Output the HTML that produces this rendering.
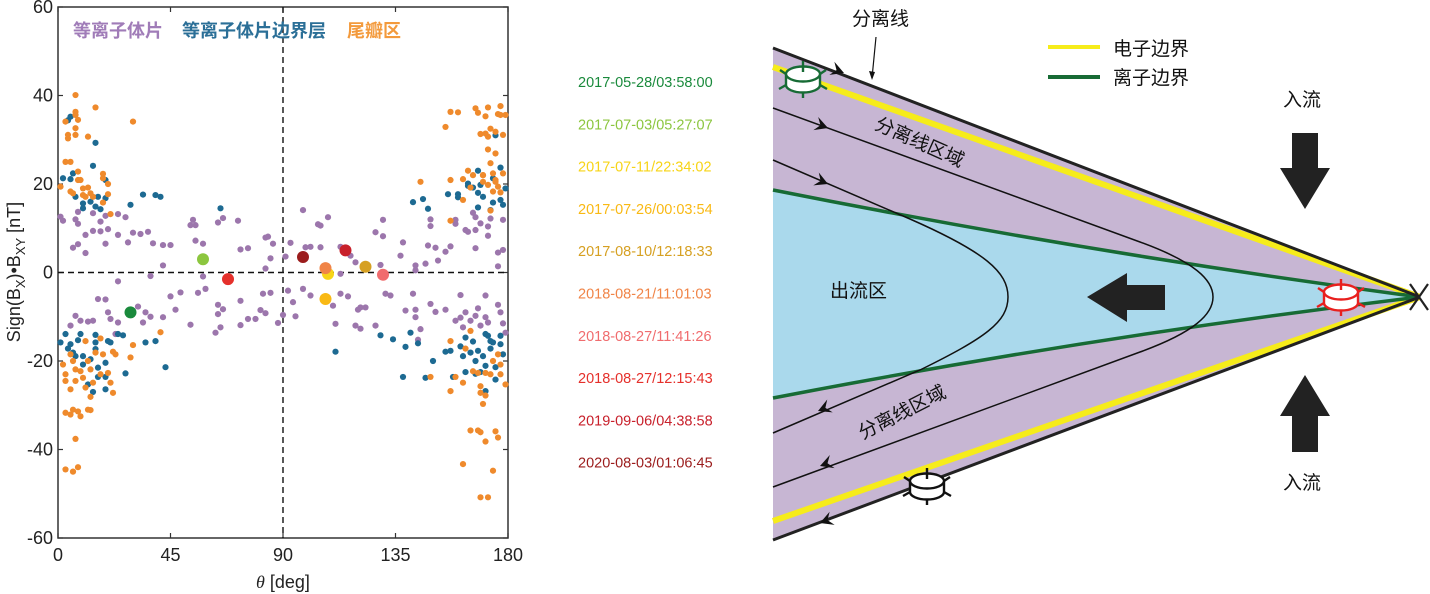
<!DOCTYPE html>
<html><head><meta charset="utf-8">
<style>
html,body{margin:0;padding:0;background:#fff;}
svg{display:block;}
text{font-family:"Liberation Sans","Noto Sans CJK SC",sans-serif;}
</style></head>
<body>
<svg id="fig" width="1430" height="594" viewBox="0 0 1430 594" xmlns="http://www.w3.org/2000/svg">
<g id="left">
  <rect x="58" y="7" width="450" height="531" fill="#fff" stroke="#333" stroke-width="1.5"/>
  <g id="ticks"></g>
  <g id="guides"></g>
  <g id="pts"></g>
  <g id="big"></g>
  <g font-size="18" font-weight="bold">
    <text x="73" y="37" fill="#a07cb8">等离子体片</text>
    <text x="182" y="37" fill="#2b6f97">等离子体片边界层</text>
    <text x="347" y="37" fill="#f39a3c">尾瓣区</text>
  </g>
  <text x="283" y="588" font-size="18" text-anchor="middle" fill="#222"><tspan font-style="italic" font-family="Liberation Serif, serif">θ</tspan> [deg]</text>
  <text transform="translate(20,272) rotate(-90)" font-size="18" text-anchor="middle" fill="#222">Sign(B<tspan font-size="13" dy="5">X</tspan><tspan dy="-5">)•B</tspan><tspan font-size="13" dy="5">XY</tspan><tspan dy="-5"> [nT]</tspan></text>
  <g id="dates" font-size="14.5"></g>
</g>

<g id="right">
  <polygon points="773,48 1420,297 773,540" fill="#c7b6d3"/>
  <path d="M773,190 Q1100,255 1420,297 Q1100,335 773,398 Z" fill="#aad9ec"/>
  <line x1="773" y1="67" x2="1420" y2="297" stroke="#f6ec1a" stroke-width="6"/>
  <line x1="773" y1="521" x2="1420" y2="297" stroke="#f6ec1a" stroke-width="6"/>
  <path d="M773,190 Q1100,255 1420,297" fill="none" stroke="#176b35" stroke-width="3.5"/>
  <path d="M773,398 Q1100,335 1420,297" fill="none" stroke="#176b35" stroke-width="3.5"/>
  <line x1="773" y1="48" x2="1420" y2="297" stroke="#222" stroke-width="3"/>
  <line x1="773" y1="540" x2="1420" y2="297" stroke="#222" stroke-width="3"/>
  <path d="M773,108 L1140,242 C1195,262 1213,280 1213,297 C1213,314 1195,332 1140,352 L773,487" fill="none" stroke="#111" stroke-width="1.5"/>
  <path d="M773,160 L910,219 C985,252 1008,272 1008,297 C1008,322 985,338 920,370 L773,433" fill="none" stroke="#111" stroke-width="1.5"/>
  <g fill="#111">
    <path d="M0,0 L-13,-7 L-8,0 L-13,7 Z" transform="translate(844,73) rotate(21)"/>
    <path d="M0,0 L-13,-7 L-8,0 L-13,7 Z" transform="translate(828,128) rotate(20)"/>
    <path d="M0,0 L-13,-7 L-8,0 L-13,7 Z" transform="translate(828,184) rotate(23)"/>
    <path d="M0,0 L-13,-7 L-8,0 L-13,7 Z" transform="translate(818,411) rotate(157)"/>
    <path d="M0,0 L-13,-7 L-8,0 L-13,7 Z" transform="translate(820,466) rotate(160)"/>
    <path d="M0,0 L-13,-7 L-8,0 L-13,7 Z" transform="translate(820,523) rotate(159)"/>
  </g>
  <polygon points="1087,297 1127,273 1127,285 1165,285 1165,310 1127,310 1127,322" fill="#222"/>
  <polygon points="1292,133 1318,133 1318,168 1330,168 1305,209 1280,168 1292,168" fill="#222"/>
  <polygon points="1292,452 1318,452 1318,416 1330,416 1305,375 1280,416 1292,416" fill="#222"/>
  <path d="M1410,284 L1428,310 M1428,284 L1410,310" stroke="#222" stroke-width="2.2"/>
  <g font-size="19" fill="#111" font-family="'Noto Sans CJK SC',sans-serif">
    <text x="852" y="25">分离线</text>
    <text x="1283" y="106">入流</text>
    <text x="1283" y="489">入流</text>
    <text x="830" y="297">出流区</text>
    <text transform="translate(917,148) rotate(24)" text-anchor="middle">分离线区域</text>
    <text transform="translate(905,418) rotate(-27)" text-anchor="middle">分离线区域</text>
    <text x="1113" y="55">电子边界</text>
    <text x="1113" y="84">离子边界</text>
  </g>
  <line x1="1048" y1="47" x2="1100" y2="47" stroke="#f6ec1a" stroke-width="4"/>
  <line x1="1048" y1="77" x2="1100" y2="77" stroke="#176b35" stroke-width="4"/>
  <path d="M876,37 L872,78" stroke="#111" stroke-width="1.2"/>
  <path d="M872,80 L869,71 L875,72 Z" fill="#111"/>
  <g id="sc1"></g>
  <g id="sc2"></g>
  <g id="sc3"></g>
</g>
</svg>
<script>
const NS='http://www.w3.org/2000/svg';
// ---- data ----
const xTicks=[0,45,90,135,180];
const yTicks=[-60,-40,-20,0,20,40,60];
const psTheta=[1,2,6,8,7,8,8,11,11,14,14,17,17,19,19,20,24,24,27,28,30,33,36,38,42,45,42,37,24,53,54,55,55,58,58,64,66,72,73,76,83,84,86,85,83,91,93,98,99,101,105,104,105,108,113,113,117,119,127,130,130,129,137,138,143,143,147,148,149,149,151,152,155,157,159,159,163,164,166,167,167,167,169,172,172,173,176,178,178,176,
16,19,7,5,9,12,14,20,21,24,23,32,34,35,37,42,45,49,47,53,56,59,64,66,64,63,65,73,73,76,79,81,83,82,85,88,90,92,94,95,98,101,110,111,113,116,120,121,123,119,121,127,131,133,139,142,143,143,145,144,149,151,155,161,159,161,162,163,165,167,168,169,171,171,172,176,177,178,179];
const psB=[12.6,11.7,5.6,6.4,12,13.7,11,4.4,8.5,13.4,9.4,11.5,9.3,6.5,12.8,9.8,13.2,8.5,12.5,6.8,9,8.7,9.2,6.6,6.2,6.2,1.6,-0.8,-2,10.7,11.9,10.7,7.2,6.5,-0.9,11.3,12.3,11.7,5.2,5.5,7.9,8.1,6.5,3.2,0.9,3.6,6.7,14.1,5.7,5.8,5.7,10.9,10.6,12.5,5.8,-0.3,3.8,2.3,9.1,11.9,8.2,1.7,3.8,6.8,1.6,0.5,2,6.1,12,10.5,5.6,2.7,4.7,5.9,11.9,11,9.6,9.2,13.5,12.5,5.5,9.6,11.1,10.4,8.3,12.2,4.5,11.9,5.1,1.4,
-6,-6.1,-9.8,-12,-10.9,-11.1,-10.9,-9,-10.5,-11.3,-13.9,-7.7,-11.3,-9,-10,-10.1,-5.4,-4.5,-8.4,-11.8,-4.6,-3.7,-7.3,-8.3,-9.4,-13.6,-12.4,-6.4,-11.9,-10.5,-10.5,-8.5,-9.2,-4.8,-4.6,-11.4,-9.6,-4.1,-6.7,-9.9,-3.7,-5.2,-7.5,-11.6,-4.8,-5.4,-8.4,-7.9,-7.9,-12,-12.7,-12,-4.8,-5.2,-8.6,-4.8,-8.4,-10.1,-12.8,-15.2,-7.1,-8.9,-8.4,-5.1,-10.9,-10.2,-12.4,-9,-10.9,-9.8,-8.1,-12,-5.2,-10.1,-11.3,-7.3,-9,-11.5,-13.6];
const lobeTheta=[1,3,3,4,4,5,5,6,7,7,7,7,8,7,8,9,8,10,12,12,11,10,13,15,14,18,18,20,20,21,18,30,145,155,157,160,157,157,162,162,164,165,167,168,169,171,172,172,173,171,172,173,175,175,176,177,177,179,178,166,170,170,174,175,176,178,177,172,174,173,175,170,
2,3,3,3,5,5,5,6,6,7,7,8,7,9,9,10,11,11,12,12,13,13,13,14,15,3,6,8,17,17,18,20,21,22,22,23,29,30,41,149,157,157,159,162,162,163,165,168,169,169,169,170,171,171,169,172,174,175,176,176,177,177,179,171,173,174,168,166,165];
const lobeB=[19.4,34.1,25,30.3,31.1,25,18.3,17.9,40.1,36.3,32.6,31.1,34.5,35.6,22.8,20.9,20.9,19,30.7,19.2,17.1,17.5,17.9,37.3,17.1,22.3,21.3,17.7,20,13.2,15.8,34.1,20.5,32.9,36.3,36.2,11.7,20.9,21.1,16.4,23,19.2,37.1,36.1,31.3,35.3,37.3,27.8,24.7,31.4,30.7,32.5,26.9,31.8,35.8,37.6,35.6,35.6,31.1,22,22,20.5,22.4,20.9,19.4,22.4,18.1,19.8,18.3,14,20.5,22,
-20.8,-24.5,-23,-31.7,-32.1,-26.4,-18.5,-20,-31,-21.9,-24.5,-31.4,-37.6,-22.3,-32.5,-23.8,-15.5,-26,-20,-31,-31.1,-28.1,-21.9,-24.9,-18.1,-44.5,-45,-44,-14.9,-23,-18.5,-22.7,-24.9,-27.2,-17.9,-18.5,-19.2,-16.4,-13.5,-23.6,-15.5,-26.8,-23.6,-24.9,-43.3,-17.2,-35.7,-35.7,-36.1,-25.7,-27.2,-29.7,-27.8,-38.2,-50.8,-50.8,-44.8,-35.9,-37.3,-18.5,-20.8,-23,-25.3,-22.7,-23,-20,-22.7,-22.3,-13.2];
const pslTheta=[2,5,4,6,5,7,10,10,13,15,14,15,16,17,19,19,29,34,39,41,65,142,146,148,156,160,160,164,164,166,168,168,168,169,170,173,174,175,177,174,177,178,179,
1,3,4,5,6,7,8,9,10,10,12,13,14,15,15,15,16,16,19,19,19,20,21,24,26,27,35,39,43,111,129,134,138,139,141,144,147,150,155,157,158,161,162,163,163,165,166,167,167,168,169,170,171,171,172,173,173,174,175,175,177,177,178,171];
const pslB=[21.3,35.2,34.4,22.4,21.1,17.1,15.6,14.5,16,29.3,24.1,14.9,17.1,14.3,20.9,16.8,15.3,17.6,17.5,17.1,14.5,15.9,16.6,14.4,17.7,17.7,17,20.1,19.6,19.2,18,14.7,23,19.8,17.1,14.1,15.8,31,23.7,21.3,16.4,15.3,19,
-15.8,-13.9,-17.2,-16.2,-18.1,-18.9,-15.3,-13.9,-18.9,-20.8,-25.3,-19.6,-27,-15.8,-14.1,-17.3,-21.5,-23.6,-20.4,-23.6,-26.4,-15.5,-15.8,-13.9,-14.2,-22.8,-15.8,-15.5,-21.4,-17.9,-14.2,-15.1,-23.6,-16.8,-13.6,-16,-23.8,-20,-17.9,-17.7,-23.6,-16.7,-18.9,-22.5,-14.7,-18.1,-15.6,-20,-22.9,-17.7,-22.5,-18.9,-13.9,-21.1,-14.3,-15.5,-17.2,-15.8,-21.4,-24.2,-16.2,-14.3,-18.5,-26.8];
const eventDates=['2017-05-28/03:58:00','2017-07-03/05:27:07','2017-07-11/22:34:02','2017-07-26/00:03:54','2017-08-10/12:18:33','2018-08-21/11:01:03','2018-08-27/11:41:26','2018-08-27/12:15:43','2019-09-06/04:38:58','2020-08-03/01:06:45'];
const eventTheta=[29,58,108,107,123,107,130,68,115,98];
const eventB=[-9,3,-0.3,-6,1.3,1,-0.5,-1.5,5,3.5];
const eventColors=['#1a8a3c','#8cc63f','#f7d417','#f9b914','#d6a022','#f08447','#f06c6e','#e5302b','#c8202b','#9b1c1c'];
// ---- axes ----
const X0=58,X1=508,Y0=7,Y1=538;
function xs(t){return X0+(t-0)/180*(X1-X0);}
function ys(v){return Y1-(v+60)/120*(Y1-Y0);}
function mk(tag,attrs,parent){const e=document.createElementNS(NS,tag);for(const k in attrs)e.setAttribute(k,attrs[k]);parent.appendChild(e);return e;}
const gT=document.getElementById('ticks');
xTicks.forEach(t=>{
  const a=mk('line',{x1:xs(t),x2:xs(t),y1:Y1,y2:Y1-5,stroke:'#333','stroke-width':1.2},gT);
  
  
  mk('line',{x1:xs(t),x2:xs(t),y1:Y0,y2:Y0+5,stroke:'#333','stroke-width':1.2},gT);
  const l=mk('text',{x:xs(t),y:Y1+23,'font-size':18,'text-anchor':'middle',fill:'#222'},gT);
  l.textContent=t;
  
  
});
yTicks.forEach(v=>{
  const a=mk('line',{x1:X0,x2:X0+5,y1:ys(v),y2:ys(v),stroke:'#333','stroke-width':1.2},gT);
  
  
  mk('line',{x1:X1,x2:X1-5,y1:ys(v),y2:ys(v),stroke:'#333','stroke-width':1.2},gT);
  const l=mk('text',{x:X0-5,y:ys(v)+6,'font-size':18,'text-anchor':'end',fill:'#222'},gT);
  l.textContent=v;
  
  
});
const gG=document.getElementById('guides');
const vg=mk('line',{x1:xs(90),x2:xs(90),y1:Y0,y2:Y1,stroke:'#111','stroke-width':1.4,'stroke-dasharray':'6,4'},gG);


const hg=mk('line',{x1:X0,x2:X1,y1:ys(0),y2:ys(0),stroke:'#111','stroke-width':1.4,'stroke-dasharray':'6,4'},gG);


const gP=document.getElementById('pts');
function series(th,b,col,name){
  for(let i=0;i<th.length&&i<b.length;i++){
    const c=mk('circle',{cx:xs(th[i]),cy:ys(b[i]),r:3.1,fill:col},gP);
    
    
  }
}
series(psTheta,psB,'#9c76ac','plasma-sheet-point');
series(pslTheta,pslB,'#1d6a92','boundary-layer-point');
series(lobeTheta,lobeB,'#ef8a2c','lobe-point');
const gB=document.getElementById('big');
const gD=document.getElementById('dates');
eventDates.forEach((d,i)=>{
  const c=mk('circle',{cx:xs(eventTheta[i]),cy:ys(eventB[i]),r:6,fill:eventColors[i]},gB);
  
  
  const t=mk('text',{x:578,y:87+i*42.3,fill:eventColors[i]},gD);
  t.textContent=d;
  
  
});
// spacecraft icons
function sc(id,cx,cy,col){
  const g=document.getElementById(id);
  mk('path',{d:`M${cx-17},${cy} L${cx-17},${cy+11} A17,7.5 0 0 0 ${cx+17},${cy+11} L${cx+17},${cy}`,fill:'#fff',stroke:col,'stroke-width':2.4},g);
  mk('ellipse',{cx:cx,cy:cy,rx:17,ry:7.5,fill:'#fff',stroke:col,'stroke-width':2.4},g);
  mk('path',{d:`M${cx},${cy-13} L${cx},${cy-2} M${cx},${cy+18} L${cx},${cy+24} M${cx-17},${cy+11} L${cx-24},${cy+15} M${cx+17},${cy+11} L${cx+24},${cy+15} M${cx-17},${cy} L${cx-23},${cy-4} M${cx+17},${cy} L${cx+23},${cy-4}`,stroke:col,'stroke-width':2.4},g);
}
sc('sc1',803,74,'#176b35');
sc('sc2',1341,292,'#e8201e');
sc('sc3',927,481,'#111');
</script>
</body></html>
